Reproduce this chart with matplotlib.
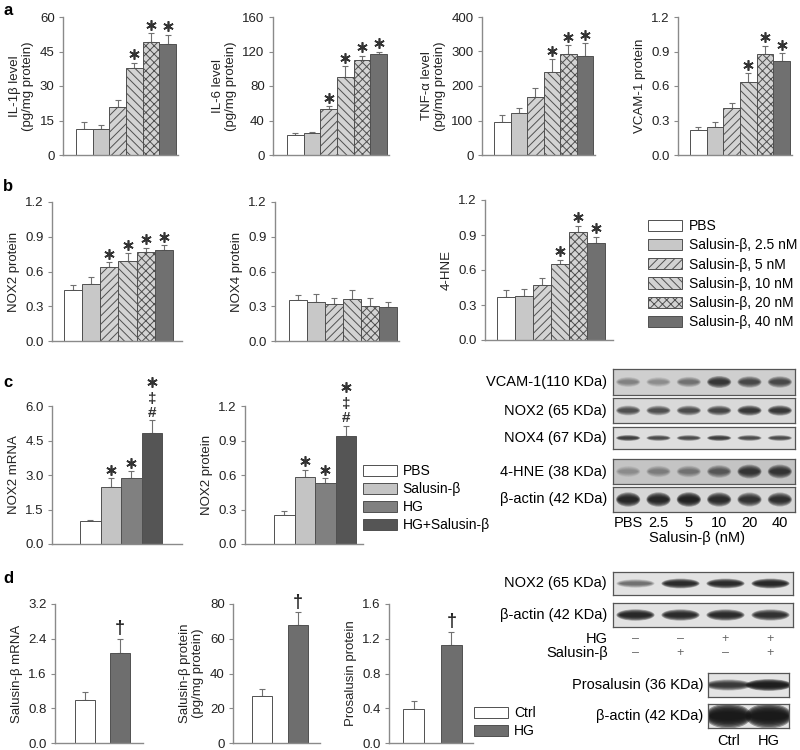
import matplotlib
matplotlib.use('Agg')
import matplotlib.pyplot as plt
from matplotlib.patches import Patch, Ellipse
from matplotlib.transforms import offset_copy
import numpy as np

plt.rcParams['font.family'] = ['Liberation Sans', 'DejaVu Sans']
plt.rcParams['font.size'] = 9
plt.rcParams['hatch.linewidth'] = 0.7

W, H = 800, 750
fig = plt.figure(figsize=(8, 7.5), dpi=100)

# ---------------- data ----------------
dose_labels = ['PBS', 'Salusin-β, 2.5 nM', 'Salusin-β, 5 nM', 'Salusin-β, 10 nM',
               'Salusin-β, 20 nM', 'Salusin-β, 40 nM']
il1b = [11.2, 11.5, 21.0, 37.7, 49.1, 48.4]
il1b_err = [3.0, 1.5, 2.8, 2.4, 4.0, 3.9]
il1b_sig = ['', '', '', '*', '*', '*']
il6 = [23, 25, 53, 91, 110, 117]
il6_err = [2, 1.6, 4, 12, 5, 3]
il6_sig = ['', '', '*', '*', '*', '*']
tnf = [97, 121, 168, 242, 294, 288]
tnf_err = [19, 16, 26, 36, 24, 37]
tnf_sig = ['', '', '', '*', '*', '*']
vcam = [0.22, 0.24, 0.41, 0.635, 0.88, 0.815]
vcam_err = [0.02, 0.05, 0.045, 0.075, 0.07, 0.07]
vcam_sig = ['', '', '', '*', '*', '*']

nox2 = [0.44, 0.49, 0.635, 0.69, 0.765, 0.785]
nox2_err = [0.04, 0.06, 0.045, 0.07, 0.04, 0.04]
nox2_sig = ['', '', '*', '*', '*', '*']
nox4 = [0.355, 0.34, 0.32, 0.365, 0.305, 0.29]
nox4_err = [0.04, 0.065, 0.05, 0.075, 0.065, 0.05]
nox4_sig = ['', '', '', '', '', '']
hne = [0.365, 0.38, 0.475, 0.65, 0.93, 0.835]
hne_err = [0.065, 0.055, 0.055, 0.04, 0.05, 0.05]
hne_sig = ['', '', '', '*', '*', '*']

hg_labels = ['PBS', 'Salusin-β', 'HG', 'HG+Salusin-β']
nox2_mrna = [1.0, 2.47, 2.88, 4.84]
nox2_mrna_err = [0.05, 0.4, 0.3, 0.54]
nox2_prot_c = [0.25, 0.58, 0.53, 0.94]
nox2_prot_c_err = [0.04, 0.065, 0.045, 0.09]
hg_sig = ['', '*', '*', '*']
hg_extra = ['', '', '', '#‡']

ctrl_labels = ['Ctrl', 'HG']
sal_mrna = [1.0, 2.07]
sal_mrna_err = [0.17, 0.33]
sal_prot = [26.8, 67.8]
sal_prot_err = [4.4, 7.5]
prosal = [0.39, 1.13]
prosal_err = [0.09, 0.15]
ctrl_sig = ['', '†']

# blot band intensities (0-1 darkness)
blot_c_names = ['VCAM-1(110 KDa)', 'NOX2 (65 KDa)', 'NOX4 (67 KDa)', '4-HNE (38 KDa)', 'β-actin (42 KDa)']
blot_c_vals = [[0.40, 0.35, 0.50, 0.82, 0.72, 0.72],
               [0.70, 0.70, 0.72, 0.74, 0.82, 0.82],
               [0.78, 0.72, 0.72, 0.78, 0.72, 0.72],
               [0.30, 0.40, 0.45, 0.62, 0.82, 0.82],
               [0.90, 0.90, 0.92, 0.88, 0.84, 0.85]]
lane_c = ['PBS', '2.5', '5', '10', '20', '40']
blot_d_names = ['NOX2 (65 KDa)', 'β-actin (42 KDa)']
blot_d_vals = [[0.55, 0.88, 0.88, 0.9],
               [0.9, 0.88, 0.88, 0.86]]
hg_signs = ['–', '–', '+', '+']
sal_signs = ['–', '+', '–', '+']
blot_p_names = ['Prosalusin (36 KDa)', 'β-actin (42 KDa)']
blot_p_vals = [[0.82, 0.95], [0.97, 0.97]]

# ---------------- styles ----------------
dose_face = ['white', '#c8c8c8', '#d3d3d3', '#d3d3d3', '#d3d3d3', '#707070']
dose_hatch = [None, None, '////', '\\\\\\\\', 'xxxx', None]
hg_face = ['white', '#c4c4c4', '#808080', '#555555']
ctrl_face = ['white', '#6e6e6e']
EDGE = '#505050'
AXC = '#8a8a8a'


def pax(x0, y0, x1, y1):
    return fig.add_axes([x0 / W, 1 - y1 / H, (x1 - x0) / W, (y1 - y0) / H])


def ftext(x, y, s, **kw):
    fig.text(x / W, 1 - y / H, s, **kw)


def bar_panel(geom, vals, errs, ticks, fmt, ylabel, faces, hatches, sig, width=1.0, extra=None):
    axx, ytop, ybot, bl, br, ae = geom
    ax = pax(axx, ytop, ae, ybot)
    n = len(vals)
    x = np.arange(n)
    unit = (br - bl) / (n - 1 + width)
    ax.set_xlim(-width / 2 - (bl - axx) / unit, n - 1 + width / 2 + (ae - br) / unit)
    ax.set_ylim(0, ticks[-1])
    ax.bar(x, vals, width=width, color=faces, hatch=hatches, edgecolor=EDGE, linewidth=0.7, zorder=2)
    ax.errorbar(x, vals, yerr=[np.zeros(n), errs], fmt='none', ecolor='#707070',
                elinewidth=0.8, capsize=2.5, capthick=0.8, zorder=1)
    for s in ['top', 'right']:
        ax.spines[s].set_visible(False)
    for s in ['left', 'bottom']:
        ax.spines[s].set_color(AXC)
        ax.spines[s].set_linewidth(1.0)
    ax.set_xticks([])
    ax.set_yticks(ticks)
    ax.set_yticklabels([fmt.format(t) for t in ticks])
    ax.tick_params(axis='y', length=3, color=AXC, width=0.8, labelsize=9.5, pad=3, labelcolor='#222222')
    ax.set_ylabel(ylabel, fontsize=9.5, labelpad=4, color='#222222', linespacing=1.1)
    tops = np.array(vals) + np.array(errs)
    for i in range(n):
        base = 0
        if extra is not None and extra[i]:
            ax.annotate('#', xy=(x[i], tops[i]), xytext=(0, 0.5), textcoords='offset points',
                        ha='center', va='bottom', fontsize=11, fontweight='bold', color='#333333')
            ax.annotate('‡', xy=(x[i], tops[i]), xytext=(0, 10.5), textcoords='offset points',
                        ha='center', va='bottom', fontsize=11, fontweight='bold', color='#333333',
                        annotation_clip=False)
            base = 21.5
        if sig[i] == '*':
            trs = offset_copy(ax.transData, fig=fig, y=6.0 + base, units='points')
            ax.plot([x[i]], [tops[i]], marker=(6, 2, 0), ms=7.5, mew=1.2, color='#333333',
                    transform=trs, clip_on=False, zorder=5)
        elif sig[i] == '†':
            ax.annotate('†', xy=(x[i], tops[i]), xytext=(0, 1), textcoords='offset points',
                        ha='center', va='bottom', fontsize=13, fontweight='bold', color='#222222',
                        annotation_clip=False)
    return ax


def blot(x0, y0, x1, y1, intens, bh, bg='#dcdcdc', bw=0.8):
    ax = pax(x0, y0, x1, y1)
    n = len(intens)
    ax.set_xlim(0, n)
    ax.set_ylim(0, 1)
    ax.set_facecolor(bg)
    ax.set_xticks([])
    ax.set_yticks([])
    for s in ax.spines.values():
        s.set_color('#555555')
        s.set_linewidth(0.9)
    layers = 7
    for i, v in enumerate(intens):
        cx = i + 0.5
        a = 1 - (1 - v) ** (1 / layers)
        h = bh * (0.6 + 0.4 * v)
        for k in range(layers):
            f = 1 - k / layers * 0.8
            ax.add_patch(Ellipse((cx, 0.5), bw * (0.7 + 0.3 * f), h * f,
                                 facecolor='#151515', edgecolor='none', alpha=a))
    return ax


# ---------------- panel a ----------------
ftext(3, 3, 'a', fontsize=12, fontweight='bold', va='top')
bar_panel((63, 17, 155, 76, 176, 178), il1b, il1b_err, [0, 15, 30, 45, 60], '{:g}',
          'IL-1β level\n(pg/mg protein)', dose_face, dose_hatch, il1b_sig)
bar_panel((273, 17, 155, 287, 387, 389), il6, il6_err, [0, 40, 80, 120, 160], '{:g}',
          'IL-6 level\n(pg/mg protein)', dose_face, dose_hatch, il6_sig)
bar_panel((482, 17, 155, 494, 593, 595), tnf, tnf_err, [0, 100, 200, 300, 400], '{:g}',
          'TNF-α level\n(pg/mg protein)', dose_face, dose_hatch, tnf_sig)
bar_panel((678, 17, 155, 690, 790, 792), vcam, vcam_err, [0, 0.3, 0.6, 0.9, 1.2], '{:.1f}',
          'VCAM-1 protein', dose_face, dose_hatch, vcam_sig)

# ---------------- panel b ----------------
ftext(3, 179, 'b', fontsize=12, fontweight='bold', va='top')
bar_panel((52, 202, 341, 64, 173, 182), nox2, nox2_err, [0, 0.3, 0.6, 0.9, 1.2], '{:.1f}',
          'NOX2 protein', dose_face, dose_hatch, nox2_sig)
bar_panel((275, 202, 341, 289, 397, 399), nox4, nox4_err, [0, 0.3, 0.6, 0.9, 1.2], '{:.1f}',
          'NOX4 protein', dose_face, dose_hatch, nox4_sig)
bar_panel((485, 200, 340, 497, 605, 613), hne, hne_err, [0, 0.3, 0.6, 0.9, 1.2], '{:.1f}',
          '4-HNE', dose_face, dose_hatch, hne_sig)
h_b = [Patch(facecolor=f, edgecolor=EDGE, hatch=h, linewidth=0.7) for f, h in zip(dose_face, dose_hatch)]
fig.legend(h_b, dose_labels, loc='upper left', bbox_to_anchor=(648 / W, 1 - 219 / H), frameon=False,
           handlelength=2.45, handleheight=0.85, handletextpad=0.5, labelspacing=0.38,
           borderpad=0, borderaxespad=0, fontsize=10)

# ---------------- panel c ----------------
ftext(3, 375, 'c', fontsize=12, fontweight='bold', va='top')
bar_panel((52, 406, 544, 80, 162, 182), nox2_mrna, nox2_mrna_err, [0, 1.5, 3.0, 4.5, 6.0], '{:.1f}',
          'NOX2 mRNA', hg_face, [None] * 4, hg_sig, extra=hg_extra)
bar_panel((245, 406, 544, 274, 356, 363), nox2_prot_c, nox2_prot_c_err, [0, 0.3, 0.6, 0.9, 1.2], '{:.1f}',
          'NOX2 protein', hg_face, [None] * 4, hg_sig, extra=hg_extra)
h_c = [Patch(facecolor=f, edgecolor=EDGE, linewidth=0.7) for f in hg_face]
fig.legend(h_c, hg_labels, loc='upper left', bbox_to_anchor=(363 / W, 1 - 464 / H), frameon=False,
           handlelength=2.45, handleheight=0.85, handletextpad=0.4, labelspacing=0.3,
           borderpad=0, borderaxespad=0, fontsize=10)

# blots c
c_rows = [(369, 395), (398, 423), (427, 449), (459, 484), (487, 512)]
c_bh = [0.5, 0.45, 0.3, 0.6, 0.6]
c_bg = ['#cfcfcf', '#d9d9d9', '#dedede', '#c4c4c4', '#d6d6d6']
for name, vals, (y0, y1), bh, bg in zip(blot_c_names, blot_c_vals, c_rows, c_bh, c_bg):
    blot(613, y0, 795, y1, vals, bh, bg=bg)
    ftext(607, (y0 + y1) / 2, name, ha='right', va='center', fontsize=10.5)
lane_w = (795 - 613) / len(lane_c)
for i, lab in enumerate(lane_c):
    ftext(613 + lane_w * (i + 0.5), 523, lab, ha='center', va='center', fontsize=10.5)
ftext(697, 538, 'Salusin-β (nM)', ha='center', va='center', fontsize=10.5)

# ---------------- panel d ----------------
ftext(3, 571, 'd', fontsize=12, fontweight='bold', va='top')
bar_panel((55, 604, 743, 75, 130, 143), sal_mrna, sal_mrna_err, [0, 0.8, 1.6, 2.4, 3.2], '{:.1f}',
          'Salusin-β mRNA', ctrl_face, [None] * 2, ctrl_sig, width=0.57)
bar_panel((233, 604, 743, 252, 308, 320), sal_prot, sal_prot_err, [0, 20, 40, 60, 80], '{:g}',
          'Salusin-β protein\n(pg/mg protein)', ctrl_face, [None] * 2, ctrl_sig, width=0.57)
bar_panel((389, 604, 743, 403, 462, 473), prosal, prosal_err, [0, 0.4, 0.8, 1.2, 1.6], '{:.1f}',
          'Prosalusin protein', ctrl_face, [None] * 2, ctrl_sig, width=0.57)
h_d = [Patch(facecolor=f, edgecolor=EDGE, linewidth=0.7) for f in ctrl_face]
fig.legend(h_d, ctrl_labels, loc='upper left', bbox_to_anchor=(474 / W, 1 - 706 / H), frameon=False,
           handlelength=2.45, handleheight=0.85, handletextpad=0.45, labelspacing=0.28,
           borderpad=0, borderaxespad=0, fontsize=10)

# blots d
d_rows = [(572, 595), (603, 627)]
d_bh = [0.45, 0.5]
for name, vals, (y0, y1), bh in zip(blot_d_names, blot_d_vals, d_rows, d_bh):
    blot(613, y0, 793, y1, vals, bh, bg='#e2e2e2', bw=0.85)
    ftext(607, (y0 + y1) / 2, name, ha='right', va='center', fontsize=10.5)
lw_d = (793 - 613) / len(hg_signs)
ftext(608, 639, 'HG', ha='right', va='center', fontsize=10.5)
ftext(608, 653, 'Salusin-β', ha='right', va='center', fontsize=10.5)
for i, (a, b) in enumerate(zip(hg_signs, sal_signs)):
    xc = 613 + lw_d * (i + 0.5)
    ftext(xc, 639, a, ha='center', va='center', fontsize=9, color='#666666')
    ftext(xc, 653, b, ha='center', va='center', fontsize=9, color='#666666')

p_rows = [(673, 697), (704, 728)]
p_bh = [0.5, 1.05]
for name, vals, (y0, y1), bh in zip(blot_p_names, blot_p_vals, p_rows, p_bh):
    blot(708, y0, 789, y1, vals, bh, bg='#e4e4e4', bw=1.15)
    ftext(703, (y0 + y1) / 2, name, ha='right', va='center', fontsize=10.5)
for i, lab in enumerate(ctrl_labels):
    ftext(708 + (789 - 708) / 2 * (i + 0.5), 741, lab, ha='center', va='center', fontsize=10.5)

fig.savefig('out.png', dpi=100)
